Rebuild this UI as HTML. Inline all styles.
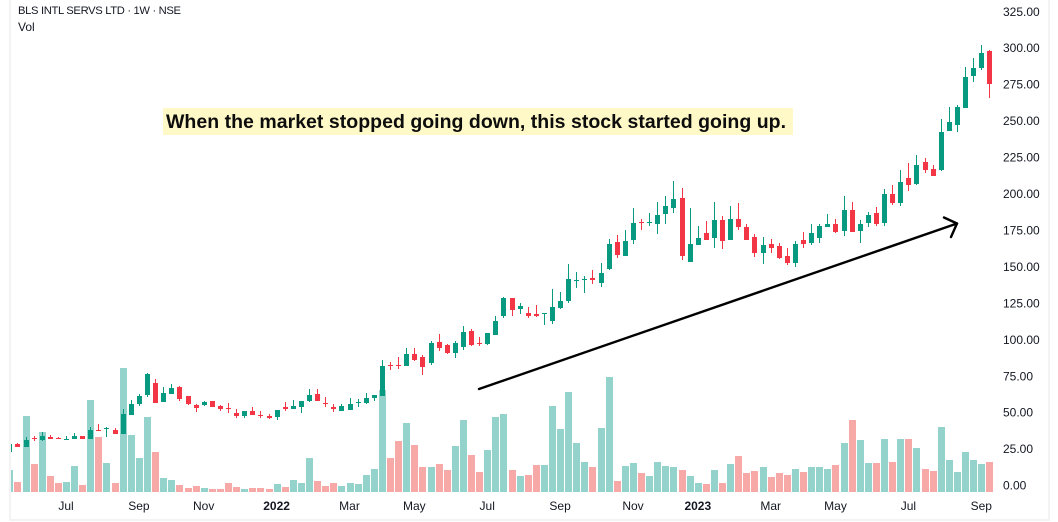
<!DOCTYPE html>
<html lang="en">
<head>
<meta charset="utf-8">
<title>BLS INTL SERVS LTD weekly chart</title>
<style>
html,body{margin:0;padding:0;background:#fff;width:1058px;height:522px;overflow:hidden}
svg{display:block;font-family:"Liberation Sans",sans-serif}
</style>
</head>
<body>
<svg id="chart" xmlns="http://www.w3.org/2000/svg" width="1058" height="522" viewBox="0 0 1058 522">
  <rect x="0" y="0" width="1058" height="522" fill="#ffffff"/>
  <rect x="9" y="0" width="2" height="521" fill="#f3f3f3"/>
  <rect x="1048" y="0" width="2" height="521" fill="#f3f3f3"/>
  <rect x="9" y="519" width="1041" height="2" fill="#f3f3f3"/>
  <defs><clipPath id="plot-clip"><rect x="11" y="0" width="1037" height="519"/></clipPath></defs>
  <g id="volumes" clip-path="url(#plot-clip)"></g>
  <g id="candles" clip-path="url(#plot-clip)"></g>
  <g id="y-axis"></g>
  <g id="x-axis"></g>
  <text x="18" y="14" font-size="11.2" fill="#131722" textLength="163" lengthAdjust="spacing">BLS INTL SERVS LTD · 1W · NSE</text>
  <text x="18" y="31" font-size="12" fill="#131722">Vol</text>
  <rect x="163" y="108" width="630" height="27" fill="#fff9c8"/>
  <text x="166" y="128" font-size="19.5" font-weight="700" fill="#0d0d0d" textLength="620" lengthAdjust="spacing">When the market stopped going down, this stock started going up.</text>
  <g fill="none" stroke="#000000" stroke-width="2.4" stroke-linecap="round" stroke-linejoin="round">
    <line x1="479" y1="389" x2="957" y2="223.5"/>
    <polyline points="944,217.5 957,223.5 951,237"/>
  </g>
</svg>
<script>
const opens = [23.1,28.3,26.3,32.5,31.1,33.1,32.5,31.1,31.8,33.8,31.8,37.9,38.6,37.9,35.2,48.2,55.8,61.9,70.2,57.2,62.6,67.4,61.3,55.1,55.1,57.8,54.4,53,49.6,47.5,51,48.2,47.5,46.8,53.7,52.3,53.7,57.8,62.6,56.5,53.7,51,51.6,56.4,56.4,59.9,61.2,82.5,82.5,81.8,90.1,88,83.9,98.3,96.2,90.7,94.9,105.8,97.6,96.9,103.1,116.1,128.5,120.9,118.2,117.5,117.2,112.7,121.6,126.4,140.1,140.8,142.2,138.8,148.4,166.9,157.3,168.3,180.6,179.9,179.2,186.1,190.2,197.1,153.2,164.8,173,169.6,182,168.3,182.7,177.2,170.3,159.3,165.5,164.1,157.3,152.5,168.3,166.2,169.6,177.2,179.2,174.4,188.8,174.4,179.9,186.8,179.9,199.8,193.6,210.8,206.7,221.7,217,216.3,243,247.1,258.8,280.7,286.2,297.9];
const highs = [28.3,29,33.1,33.8,36.6,34.5,33.1,33.8,35.9,33.8,40,42,40,39.3,52.3,58.5,62.6,77,72.9,67.4,69.5,68.1,61.3,55.8,57.8,57.8,55.1,56.5,52.3,51,53.7,51,48.9,51.6,57.2,58.5,57.8,66.1,66.1,60.6,55.8,55.8,59.9,59.2,63.3,61.9,85.9,84.6,88,94.2,94.2,89.4,99,103.8,96.9,99,109.3,107.2,101.7,104.5,116.1,129.1,128.5,125,122.3,123.7,117.9,134.6,132.6,151.8,146.3,143.6,147.7,152.5,168.9,171.7,175.1,190.2,182.7,186.8,194.3,198.4,208.7,203.9,190.2,177.9,181.3,194.3,184.7,191.6,193.6,179.2,172.4,170.3,168.9,166.2,162.8,167.6,173.7,179.2,179.2,186.1,182.7,198.4,194.3,182,187.5,190.9,203.2,206,216.3,221,226.5,224.5,219.7,251.2,259.5,260.8,286.9,293.1,302,298.6];
const lows = [23.1,26.3,26.3,30.4,30.4,31.8,31.8,31.1,31.8,31.8,31.8,37.3,33.1,35.2,35.2,48.2,54.4,60.6,56.5,57.2,62.6,57.8,55.1,50.3,54.4,53.7,51,49.6,46.2,46.2,48.2,46.2,45.5,44.8,50.9,52.3,49.6,57.2,57.8,53.7,50.3,51,51.6,53.7,55.8,57.8,61.2,79.1,79.8,81.8,85.2,75.6,82.5,92.1,90,87.3,92.8,95.5,95.5,96.2,103.1,114.7,116.1,117.5,114.7,115.4,109.9,110.6,120.9,125.2,135.3,131.9,138.1,136,147.7,155.9,157.3,165.5,175.1,177.9,172.4,179.2,186.8,154.5,153.2,164.8,168.3,162.8,162.1,168.3,175.1,168.3,156.6,151.8,159.3,155.2,151.1,149.7,162.8,164.8,166.2,177.2,173,171,173.7,166.2,177.2,177.9,177.9,192.3,191.6,201.9,206,214.2,212.2,215.6,243,242.3,258.8,276.6,284.9,265.6];
const closes = [28.3,26.3,31.1,32,33.8,31.8,31.8,31.8,33.8,31.8,37.9,37.3,39.3,35.2,48.9,55.8,61.3,76.3,56.5,63.3,66.7,59.2,55.8,53,57.2,53.7,52.3,52.3,47.5,51,48.2,47.5,46.2,51.6,52.3,54.4,57.8,61.9,57.8,55.8,52.3,54.4,55.8,57.2,59.9,61.9,81.8,81.8,81.8,90.1,85.9,81.1,97.6,94.2,90.7,97.6,105.1,96.2,96.9,104.5,112.7,128.5,120.2,123,116.1,116.1,117.9,122.3,126.4,141.5,140.8,141.5,140.8,145.6,165.5,158,167.6,179.9,179.9,180.6,185.4,191.6,196.4,157.3,165.5,169.6,168.3,182,167.6,182.7,177.2,168.3,159.3,164.8,162.8,155.9,152.5,165.5,165.5,173,177.9,179.2,173.7,188.8,173.7,179.2,185.4,179.2,199.8,193.6,208,206,219.7,216.3,212.2,242.3,249.2,259.5,280,286.2,296.5,275.2];
const volumes = [22,10,76,28,60,16,9,10,26,7,92,55,29,9,124,57,34,75,40,14,12,7,4,6,4,3,3,9,5,3,4,4,3,8,5,12,9,34,11,6,9,6,9,8,17,23,102,34,51,69,47,25,25,28,22,46,72,37,20,42,75,78,22,16,17,27,27,86,63,100,49,30,25,64,115,11,26,29,19,16,30,26,25,22,16,9,8,22,9,28,36,19,21,25,15,19,17,23,20,25,25,23,27,49,72,52,29,29,53,30,53,53,44,23,21,65,32,20,40,32,28,30];
const priceTicks = [0,25,50,75,100,125,150,175,200,225,250,275,300,325];
const timeTickLabels = ["Jul","Sep","Nov","2022","Mar","May","Jul","Sep","Nov","2023","Mar","May","Jul","Sep"];
const timeTickBars = [7,16,24,33,42,50,59,68,77,85,94,102,111,120];
const boldTimeTicks = ["2022","2023"];

const NS = "http://www.w3.org/2000/svg";
const barStart = 9.3, barStep = 8.1;
const priceZeroY = 485.3, pricePxPerUnit = 1.458;
const volBaseY = 492, volMax = 124, volPaneHeight = 124;
const xAxis = i => barStart + barStep * i;
const yPrice = p => priceZeroY - pricePxPerUnit * p;
const yVolume = v => volBaseY - (v / volMax) * volPaneHeight;

function make(tag, attrs, parent) {
  const el = document.createElementNS(NS, tag);
  for (const k in attrs) el.setAttribute(k, attrs[k]);
  parent.appendChild(el);
  return el;
}

const volGroup = document.getElementById("volumes");
const candleGroup = document.getElementById("candles");
const yGroup = document.getElementById("y-axis");
const xGroup = document.getElementById("x-axis");

volumes.forEach((v, i) => {
  const up = closes[i] >= opens[i];
  const cx = Math.round(xAxis(i));
  const top = Math.round(yVolume(v));
  const bar = make("rect", {x: cx - 3, y: top, width: 7, height: volBaseY - top, fill: up ? "#94d3cc" : "#f7a9a8"}, volGroup);
  
  
});

opens.forEach((o, i) => {
  const c = closes[i];
  const up = c >= o;
  const color = up ? "#089981" : "#f23645";
  const cx = Math.round(xAxis(i));
  const g = make("g", {}, candleGroup);
  
  
  const wickTop = Math.round(yPrice(highs[i]));
  const wickBottom = Math.round(yPrice(lows[i]));
  make("rect", {x: cx, y: wickTop, width: 1, height: Math.max(1, wickBottom - wickTop), fill: color}, g);
  const bodyTop = Math.round(yPrice(Math.max(o, c)));
  const bodyBottom = Math.round(yPrice(Math.min(o, c)));
  make("rect", {x: cx - 2, y: bodyTop, width: 5, height: Math.max(1, bodyBottom - bodyTop), fill: color}, g);
});

priceTicks.forEach(t => {
  const label = make("text", {x: 1003, y: yPrice(t) + 4.3, "font-size": 12, fill: "#131722"}, yGroup);
  
  
  label.textContent = t.toFixed(2);
});

timeTickLabels.forEach((t, i) => {
  const isBold = boldTimeTicks.includes(t);
  const label = make("text", {x: xAxis(timeTickBars[i]), y: 510, "font-size": 12, fill: "#131722", "text-anchor": "middle", "font-weight": isBold ? 700 : 400}, xGroup);
  
  
  label.textContent = t;
});
</script>
</body>
</html>
